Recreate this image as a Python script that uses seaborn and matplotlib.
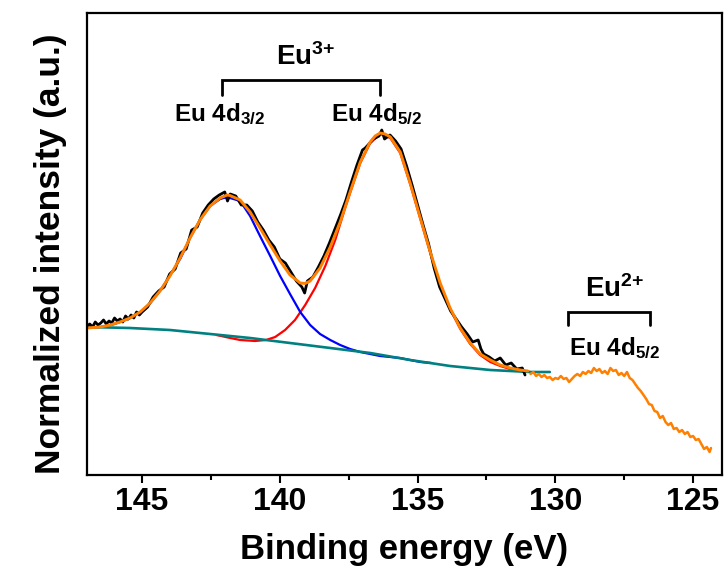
import matplotlib
matplotlib.use("Agg")
import matplotlib.pyplot as plt
import seaborn as sns
import pandas as pd
from matplotlib.ticker import MultipleLocator

# ---------------- data (binding energy in eV, intensity in a.u.) ----------------
raw_ev = [147.0, 146.9, 146.8, 146.7, 146.6, 146.5, 146.4, 146.3, 146.2, 146.1,
          146.0, 145.9, 145.8, 145.7, 145.6, 145.5, 145.4, 145.3, 145.2, 145.1,
          145.0, 144.8, 144.6, 144.4, 144.2, 144.0, 143.8, 143.6, 143.4, 143.2,
          143.0, 142.8, 142.6, 142.4, 142.2, 142.0, 141.9, 141.8, 141.6, 141.4,
          141.2, 141.0, 140.8, 140.6, 140.4, 140.2, 140.0, 139.8, 139.6, 139.4,
          139.2, 139.1, 139.0, 138.8, 138.6, 138.4, 138.2, 138.0, 137.8, 137.6,
          137.4, 137.2, 137.0, 136.9, 136.8, 136.6, 136.4, 136.3, 136.2, 136.0,
          135.8, 135.6, 135.4, 135.2, 135.0, 134.8, 134.6, 134.4, 134.2, 134.0,
          133.8, 133.6, 133.4, 133.2, 133.0, 132.8, 132.7, 132.6, 132.4, 132.2,
          132.0, 131.8, 131.6, 131.4, 131.2, 131.1]
raw_int = [149, 151, 148, 153, 150, 152, 155, 151, 154, 152,
           157, 154, 156, 153, 159, 156, 160, 157, 163, 160,
           163, 168, 178, 184, 188, 201, 206, 222, 226, 245,
           248, 262, 270, 276, 280, 283, 274, 281, 279, 270,
           270, 264, 253, 245, 235, 228, 216, 212, 203, 194,
           188, 182, 194, 198, 208, 219, 232, 246, 260, 275,
           293, 310, 325, 327, 330, 336, 339, 345, 336, 340,
           334, 326, 309, 290, 270, 250, 231, 207, 188, 176,
           164, 156, 148, 141, 133, 135, 126, 121, 118, 114,
           117, 110, 112, 106, 107, 100]

fit_ev = [147.0, 146.53, 146.16, 145.8, 145.44, 145.07, 144.71, 144.35, 143.99, 143.62,
          143.26, 142.9, 142.53, 142.17, 141.91, 141.81, 141.44, 141.08, 140.72, 140.35,
          139.99, 139.63, 139.26, 139.08, 138.9, 138.54, 138.17, 137.81, 137.45, 137.08,
          136.72, 136.54, 136.36, 136.18, 135.99, 135.63, 135.27, 134.9, 134.54, 134.18,
          133.82, 133.45, 133.09, 132.73, 132.36, 132.0, 131.64, 131.27, 131.0]
fit_int = [147, 148, 150, 153, 157, 163, 172, 184, 199, 217,
           237, 255, 269, 277, 280, 279.5, 275, 263, 247, 230,
           214, 200, 192, 191.5, 194, 207, 228, 253, 283, 313,
           333, 339, 342, 341, 338, 323, 292, 257, 223, 192,
           167, 147, 132, 121, 115, 110, 107, 105, 104]

tail_ev = [130.9, 130.8, 130.7, 130.6, 130.5, 130.4, 130.3, 130.2, 130.1, 130.0,
           129.9, 129.8, 129.7, 129.6, 129.5, 129.4, 129.3, 129.2, 129.1, 129.0,
           128.9, 128.8, 128.7, 128.6, 128.5, 128.4, 128.3, 128.2, 128.1, 128.0,
           127.9, 127.8, 127.7, 127.6, 127.5, 127.4, 127.3, 127.2, 127.1, 127.0,
           126.9, 126.8, 126.7, 126.6, 126.5, 126.4, 126.3, 126.2, 126.1, 126.0,
           125.9, 125.8, 125.7, 125.6, 125.5, 125.4, 125.3, 125.2, 125.1, 125.0,
           124.9, 124.8, 124.7, 124.6, 124.5, 124.4, 124.35]
tail_int = [101, 103, 99, 101, 98, 100, 97, 98, 95, 97,
            96, 99, 96, 97, 93, 96, 99, 101, 99, 103,
            101, 104, 102, 107, 104, 106, 102, 104, 101, 107,
            104, 105, 100, 102, 99, 103, 97, 95, 91, 87,
            84, 80, 76, 71, 70, 64, 63, 57, 59, 53,
            50, 52, 46, 47, 43, 45, 41, 43, 38, 39,
            35, 36, 31, 26, 28, 23, 27]

d32_ev = [147.0, 146.5, 146.0, 145.5, 145.0, 144.7, 144.35, 144.0, 143.6, 143.26,
          142.9, 142.53, 142.17, 141.9, 141.81, 141.44, 141.08, 140.72, 140.35, 139.99,
          139.63, 139.26, 138.9, 138.54, 138.17, 137.81, 137.45, 137.08, 136.72, 136.36,
          135.99, 135.63, 135.27, 134.9, 134.5]
d32_int = [147, 148, 151, 156, 164, 172, 184, 199, 217, 237,
           255, 269, 276, 278, 277, 274, 259, 239, 219, 199,
           181, 163, 150, 141, 135, 130, 126, 123, 121, 119,
           118, 117, 115, 113, 112]

d52_ev = [142.3, 141.8, 141.44, 140.9, 140.5, 140.17, 139.81, 139.45, 139.08, 138.72,
          138.35, 137.99, 137.63, 137.45, 137.08, 136.72, 136.36, 135.99, 135.63, 135.27,
          134.9, 134.54, 134.18, 133.82, 133.45, 133.09, 132.73, 132.36, 132.0, 131.64,
          131.27, 130.91]
d52_int = [140, 137, 135, 134, 135, 138, 145, 155, 170, 187,
           209, 235, 267, 282, 312, 332, 341, 337, 322, 291,
           256, 222, 191, 166, 146, 131, 120, 113, 109, 106,
           104, 103]

bg_ev = [147.0, 145.44, 143.99, 142.53, 141.08, 139.63, 138.17, 136.72, 135.27, 133.82,
         132.36, 130.91, 130.2]
bg_int = [148, 147, 145, 141, 137, 132, 127, 122, 115, 109,
          105, 103, 103]

xticks = [145, 140, 135, 130, 125]

# ---------------- style ----------------
sns.set_style("ticks")
plt.rcParams["font.family"] = ["Liberation Sans", "DejaVu Sans"]
plt.rcParams["font.weight"] = "bold"
plt.rcParams["text.color"] = "black"
plt.rcParams["axes.labelcolor"] = "black"
plt.rcParams["xtick.color"] = "black"
plt.rcParams["ytick.color"] = "black"
plt.rcParams["mathtext.fontset"] = "custom"
plt.rcParams["mathtext.rm"] = "Liberation Sans:bold"
plt.rcParams["mathtext.bf"] = "Liberation Sans:bold"
plt.rcParams["mathtext.it"] = "Liberation Sans:bold"
plt.rcParams["mathtext.default"] = "bf"

fig = plt.figure(figsize=(7.26, 5.83), dpi=100)
ax = fig.add_axes([87/726, 108/583, 635/726, 462/583])

sns.lineplot(x=d52_ev, y=d52_int, color="#FF0000", linewidth=1.6, ax=ax, sort=False)
sns.lineplot(x=d32_ev, y=d32_int, color="#0000FF", linewidth=1.6, ax=ax, sort=False)
sns.lineplot(x=bg_ev, y=bg_int, color="#008080", linewidth=1.9, ax=ax, sort=False)
sns.lineplot(x=raw_ev, y=raw_int, color="black", linewidth=2.0, ax=ax, sort=False)
sns.lineplot(x=fit_ev, y=fit_int, color="#FF8000", linewidth=2.1, ax=ax, sort=False)
sns.lineplot(x=tail_ev, y=tail_int, color="#FF8000", linewidth=1.8, ax=ax, sort=False)

ax.set_xlim(147.0, 123.95)
ax.set_ylim(0, 462)
ax.set_yticks([])
ax.set_xticks(xticks)
ax.xaxis.set_minor_locator(MultipleLocator(2.5))
ax.tick_params(axis="x", which="major", length=6, width=1.5, direction="out",
               labelsize=23, pad=3, color="black", labelcolor="black")
ax.tick_params(axis="x", which="minor", length=3.5, width=1.5, direction="out", color="black")
for lbl in ax.get_xticklabels():
    lbl.set_fontweight("bold")
for sp in ax.spines.values():
    sp.set_visible(True)
    sp.set_linewidth(1.6)
    sp.set_color("black")

ax.set_xlabel("Binding energy (eV)", fontsize=25, fontweight="bold", color="black")
ax.set_ylabel("Normalized intensity (a.u.)", fontsize=25.5, fontweight="bold", color="black")
ax.xaxis.set_label_coords(0.5, -0.125)
ax.yaxis.set_label_coords(-0.032, 0.478)

# ---------------- annotations ----------------
ax.text(139.08, 410, r"Eu$^{3{+}}$", fontsize=20, fontweight="bold", ha="center", va="baseline")
ax.plot([142.10, 142.10, 136.36, 136.36], [380, 395, 395, 380], color="black", lw=2.0,
        solid_joinstyle="miter")
ax.text(142.19, 354, r"Eu 4d$_{3/2}$", fontsize=17.5, fontweight="bold", ha="center", va="baseline")
ax.text(136.50, 354, r"Eu 4d$_{5/2}$", fontsize=17.5, fontweight="bold", ha="center", va="baseline")

ax.text(127.86, 178, r"Eu$^{2{+}}$", fontsize=20, fontweight="bold", ha="center", va="baseline")
ax.plot([129.53, 129.53, 126.55, 126.55], [150, 163, 163, 150], color="black", lw=2.0,
        solid_joinstyle="miter")
ax.text(127.86, 120, r"Eu 4d$_{5/2}$", fontsize=17.5, fontweight="bold", ha="center", va="baseline")

fig.savefig("out.png", dpi=100)
